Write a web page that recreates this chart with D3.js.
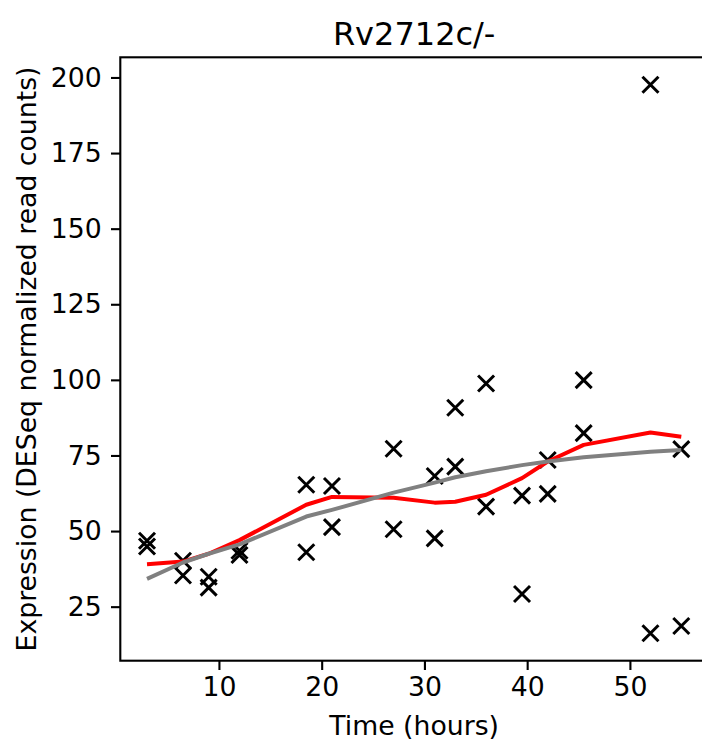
<!DOCTYPE html>
<html>
<head>
<meta charset="utf-8">
<script src="https://cdn.jsdelivr.net/npm/d3@7"></script>
<style>
  html, body { margin: 0; padding: 0; background: #fff; }
  svg { display: block; }
  text { font-family: "DejaVu Sans", sans-serif; fill: #000; }
</style>
</head>
<body>
<div id="chart"></div>
<script>
// ---- data ----
const title = "Rv2712c/-";
const xLabel = "Time (hours)";
const yLabel = "Expression (DESeq normalized read counts)";

const sampleTimes = [3, 3, 6.5, 6.5, 9, 9, 12, 12, 18.5, 18.5, 21, 21, 27, 27, 31, 31,
                     33, 33, 36, 36, 39.5, 39.5, 42, 42, 45.5, 45.5, 52, 52, 55, 55];
const sampleValues = [46.8, 44.9, 40.2, 35.3, 34.9, 31.3, 43.5, 42.1, 65.3, 43.0, 64.9, 51.3,
                      77.2, 50.6, 68.2, 47.6, 90.8, 71.3, 98.8, 58.1, 61.7, 29.2, 73.5, 62.3,
                      99.9, 82.4, 197.6, 16.2, 77.1, 18.6];

const curveTimes = [3, 6.5, 9, 12, 18.5, 21, 27, 31, 33, 36, 39.5, 42, 45.5, 52, 55];
const redValues  = [39.0, 39.9, 42.5, 47.0, 58.7, 61.3, 61.0, 59.4, 59.7, 62.0, 67.5, 73.0, 78.5, 82.6, 81.2];
const greyValues = [34.2, 39.6, 42.5, 45.6, 54.8, 57.0, 62.7, 66.0, 67.8, 69.8, 71.8, 73.0, 74.4, 76.2, 76.8];

const xTicks = [10, 20, 30, 40, 50];
const yTicks = [25, 50, 75, 100, 125, 150, 175, 200];

// ---- layout ----
const W = 702, H = 743;
const mLeft = 120.3, mRight = 708, mTop = 57.3, mBottom = 660.7;
const fs = 26.7;

function padded(vals) {
  const lo = d3.min(vals), hi = d3.max(vals), m = (hi - lo) * 0.05;
  return [lo - m, hi + m];
}

const x = d3.scaleLinear().domain(padded(sampleTimes)).range([mLeft, mRight]);
const y = d3.scaleLinear().domain(padded(sampleValues)).range([mBottom, mTop]);

const svg = d3.select("#chart").append("svg")
  .attr("width", W).attr("height", H);

// points (drawn first, lines on top)
const ms = 8;
const pts = svg.append("g");
sampleTimes.forEach((t, i) => {
  const cx = x(t), cy = y(sampleValues[i]);
  pts.append("path")
    .attr("d", `M${cx - ms},${cy - ms}L${cx + ms},${cy + ms}M${cx - ms},${cy + ms}L${cx + ms},${cy - ms}`)
    .attr("stroke", "#000").attr("stroke-width", 3).attr("fill", "none");
});

const line = d3.line().x(d => x(d[0])).y(d => y(d[1]));
svg.append("path")
  .attr("d", line(curveTimes.map((t, i) => [t, redValues[i]])))
  .attr("fill", "none").attr("stroke", "#ff0000").attr("stroke-width", 4)
  .attr("stroke-linejoin", "round").attr("stroke-linecap", "butt");
svg.append("path")
  .attr("d", line(curveTimes.map((t, i) => [t, greyValues[i]])))
  .attr("fill", "none").attr("stroke", "#808080").attr("stroke-width", 4)
  .attr("stroke-linejoin", "round").attr("stroke-linecap", "butt");

// axes
const xAxis = d3.axisBottom(x).tickValues(xTicks).tickSize(9.3).tickPadding(7).tickFormat(d3.format("d"));
const gx = svg.append("g").attr("transform", `translate(0,${mBottom})`).call(xAxis);
gx.select(".domain").remove();
gx.selectAll(".tick line").attr("stroke-width", 2.1);
gx.selectAll(".tick text").attr("font-size", fs).attr("font-family", "DejaVu Sans");

const yAxis = d3.axisLeft(y).tickValues(yTicks).tickSize(9.3).tickPadding(9.3).tickFormat(d3.format("d"));
const gy = svg.append("g").attr("transform", `translate(${mLeft},0)`).call(yAxis);
gy.select(".domain").remove();
gy.selectAll(".tick line").attr("stroke-width", 2.1);
gy.selectAll(".tick text").attr("font-size", fs).attr("font-family", "DejaVu Sans");

// spines
svg.append("rect")
  .attr("x", mLeft).attr("y", mTop)
  .attr("width", mRight - mLeft).attr("height", mBottom - mTop)
  .attr("fill", "none").attr("stroke", "#000").attr("stroke-width", 2.1);

// labels
svg.append("text").attr("x", (mLeft + mRight) / 2).attr("y", 45)
  .attr("text-anchor", "middle").attr("font-size", 32).text(title);
svg.append("text").attr("x", (mLeft + mRight) / 2).attr("y", 735)
  .attr("text-anchor", "middle").attr("font-size", fs).text(xLabel);
svg.append("text")
  .attr("transform", `translate(36,${(mTop + mBottom) / 2}) rotate(-90)`)
  .attr("text-anchor", "middle").attr("font-size", fs).text(yLabel);
</script>
</body>
</html>
